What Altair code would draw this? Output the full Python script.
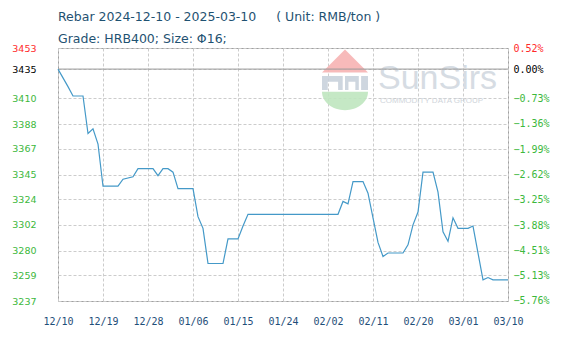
import altair as alt
import pandas as pd

# ---- data ----
dates = [
    "2024/12/10", "2024/12/12", "2024/12/13", "2024/12/15", "2024/12/16", "2024/12/17",
    "2024/12/18", "2024/12/19", "2024/12/22", "2024/12/23", "2024/12/25", "2024/12/26",
    "2024/12/29", "2024/12/30", "2024/12/31", "2025/01/01", "2025/01/02", "2025/01/03",
    "2025/01/06", "2025/01/07", "2025/01/08", "2025/01/09", "2025/01/12", "2025/01/13",
    "2025/01/15", "2025/01/16", "2025/01/17", "2025/02/04", "2025/02/05", "2025/02/06",
    "2025/02/07", "2025/02/09", "2025/02/10", "2025/02/11", "2025/02/12", "2025/02/13",
    "2025/02/14", "2025/02/17", "2025/02/18", "2025/02/19", "2025/02/20", "2025/02/21",
    "2025/02/23", "2025/02/24", "2025/02/25", "2025/02/26", "2025/02/27", "2025/02/28",
    "2025/03/02", "2025/03/03", "2025/03/05", "2025/03/06", "2025/03/07", "2025/03/10",
]
prices = [
    3435, 3420, 3412, 3412, 3380, 3384,
    3371, 3335, 3335, 3341, 3343, 3350,
    3350, 3344, 3350, 3350, 3347, 3333,
    3333, 3309, 3299, 3269, 3269, 3290,
    3290, 3301, 3311, 3311, 3322, 3320,
    3339, 3339, 3329, 3308, 3287, 3275,
    3278, 3278, 3285, 3302, 3313, 3347,
    3347, 3330, 3296, 3288, 3308, 3299,
    3299, 3301, 3255, 3257, 3255, 3255,
]
base_price = 3435
price_ticks = [3453, 3435, 3410, 3388, 3367, 3345, 3324, 3302, 3280, 3259, 3237]
pct_ticks = [0.52, 0.00, -0.73, -1.36, -1.99, -2.62, -3.25, -3.88, -4.51, -5.13, -5.76]
x_tick_days = [(2024, 12, 10), (2024, 12, 19), (2024, 12, 28), (2025, 1, 6), (2025, 1, 15),
               (2025, 1, 24), (2025, 2, 2), (2025, 2, 11), (2025, 2, 20), (2025, 3, 1),
               (2025, 3, 10)]
title_line1 = "Rebar 2024-12-10 - 2025-03-10\u00a0\u00a0\u00a0\u00a0 ( Unit: RMB/ton )"
title_line2 = "Grade: HRB400; Size: \u03a616;"

df = pd.DataFrame({"date": dates, "price": prices})
df["pct"] = (df["price"] / base_price - 1) * 100

p_min, p_max = price_ticks[-1], price_ticks[0]
pct_min = (p_min / base_price - 1) * 100
pct_max = (p_max / base_price - 1) * 100

x_values = [alt.DateTime(year=y, month=m, date=d) for (y, m, d) in x_tick_days]
x_scale = alt.Scale(domain=[x_values[0], x_values[-1]])
y_scale = alt.Scale(domain=[p_min, p_max], nice=False, zero=False)

RED = "#ff2a2a"
GREEN = "#3cb83c"
BLACK = "#000000"

left_color = {
    "condition": [
        {"test": f"datum.value == {p_max}", "value": RED},
        {"test": f"datum.value == {base_price}", "value": BLACK},
    ],
    "value": GREEN,
}
right_color = {
    "condition": [
        {"test": f"datum.value == {pct_ticks[0]}", "value": RED},
        {"test": "datum.value == 0", "value": BLACK},
    ],
    "value": GREEN,
}

x_enc = alt.X(
    "date:T",
    scale=x_scale,
    axis=alt.Axis(
        values=x_values, format="%m/%d", title=None, tickSize=0, domain=False,
        labelFont="DejaVu Sans Mono", labelFontSize=10, labelColor="#1f4e79",
        labelPadding=15, labelFlush=False, labelOverlap=False,
        grid=True, gridColor="#cccccc", gridDash=[3, 2],
    ),
)

left_axis = alt.Axis(
    orient="left", values=price_ticks, format="d", title=None, tickSize=0, domain=False,
    labelFont="DejaVu Sans", labelFontSize=9.5, labelColor=left_color,
    labelPadding=22, labelOverlap=False, labelFlush=False, labelBound=False,
    grid=True, gridColor="#cccccc", gridDash=[3, 2],
)

line = alt.Chart(df).mark_line(color="#4499c8", strokeWidth=1.2, interpolate="linear").encode(
    x=x_enc,
    y=alt.Y("price:Q", scale=y_scale, axis=left_axis),
)

zero_rule = alt.Chart(pd.DataFrame({"price": [base_price]})).mark_rule(
    color="#999999", strokeWidth=1
).encode(y=alt.Y("price:Q", scale=y_scale, axis=left_axis))

# watermark (decorative)
wm = pd.DataFrame({"t": ["SunSirs"]})
roof = alt.Chart(wm).mark_point(
    shape="M0,-0.5L1,0.5L-1,0.5Z", filled=True, color="#f6b3b3", opacity=0.9, size=46 * 46
).encode(x=alt.value(287), y=alt.value(13))
cols = alt.Chart(wm).mark_point(
    shape="M-1,-0.3H-0.1V0.3H-0.3V-0.05H-0.75V0.3H-1Z M0,-0.3H0.6V0.3H0.45V-0.05H0.15V0.3H0Z M0.7,-0.3H1V0.3H0.7Z",
    filled=True, color="#c9d2dc", opacity=0.9, size=46 * 46
).encode(x=alt.value(287), y=alt.value(35))
bowl = alt.Chart(wm).mark_point(
    shape="M-1,-0.4H1A1,0.8 0 0 1 -1,-0.4Z", filled=True, color="#bfe6bf", opacity=0.9, size=46 * 46
).encode(x=alt.value(287), y=alt.value(53))
wm_text = alt.Chart(wm).mark_text(
    font="Liberation Sans", fontSize=34, color="#d6dce3", align="left", baseline="alphabetic"
).encode(text="t:N", x=alt.value(320), y=alt.value(41))
wm_sub = alt.Chart(pd.DataFrame({"t": ["COMMODITY DATA GROUP"]})).mark_text(
    font="Liberation Sans", fontSize=8, color="#d0d5db", align="left", baseline="middle"
).encode(text="t:N", x=alt.value(322), y=alt.value(53))

pct_layer = alt.Chart(df).mark_line(opacity=0).encode(
    x=alt.X("date:T", scale=x_scale),
    y=alt.Y(
        "pct:Q",
        scale=alt.Scale(domain=[pct_min, pct_max], nice=False, zero=False),
        axis=alt.Axis(
            orient="right", values=pct_ticks, title=None, tickSize=0, domain=False,
            labelFont="DejaVu Sans Mono", labelFontSize=10, labelColor=right_color,
            labelExpr="format(datum.value, '.2f') + '%'",
            labelPadding=5, labelOverlap=False, labelFlush=False, labelBound=False, grid=False,
        ),
    ),
)

inner = alt.layer(roof, cols, bowl, wm_text, wm_sub, zero_rule, line)

chart = alt.layer(inner, pct_layer).resolve_scale(y="independent").properties(
    width=450,
    height=253,
    autosize=alt.AutoSizeParams(type="none"),
    padding={"left": 58, "top": 48, "right": 61, "bottom": 40},
    title=alt.TitleParams(
        text=[title_line1, title_line2],
        anchor="start", frame="group", font="DejaVu Sans", fontSize=12.5,
        fontWeight="normal", color="#1f5272", lineHeight=22, offset=-2,
    ),
    background="white",
).configure_view(stroke="#a0a0a0", strokeWidth=1)

chart.save("out.html", embed_options={"renderer": "svg", "actions": False})
